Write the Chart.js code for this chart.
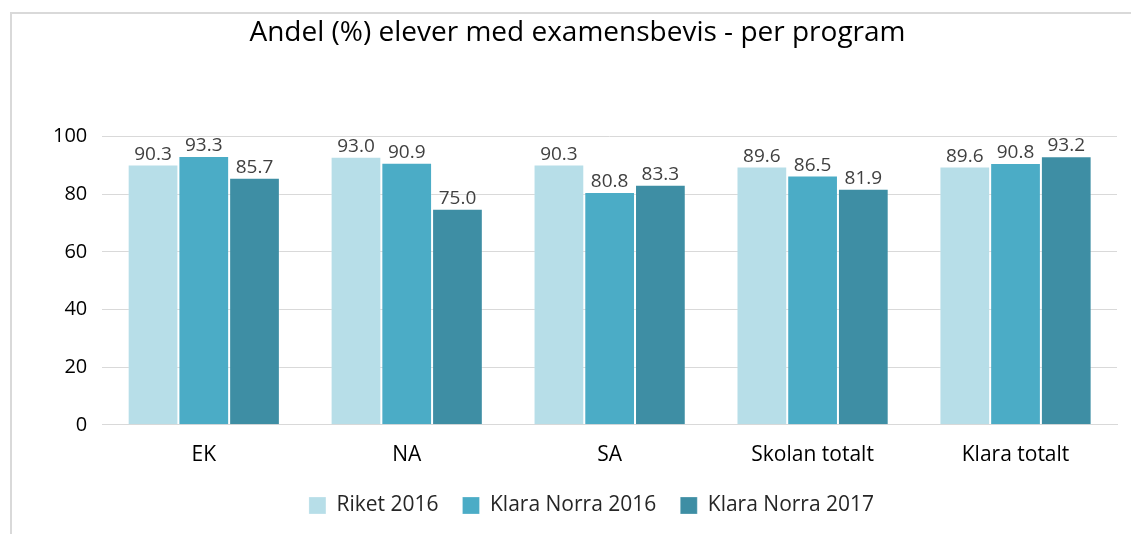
<!DOCTYPE html>
<html>
<head>
<meta charset="utf-8">
<script src="https://cdn.jsdelivr.net/npm/chart.js@4/dist/chart.umd.min.js"></script>
<style>
  html, body { margin: 0; padding: 0; background: #fff; }
  .wrap_chart {
    position: absolute; left: 10px; top: 12px;
    width: 1121px; height: 522px;
    border-top: 2px solid #d9d9d9; border-left: 2px solid #d9d9d9;
    box-sizing: border-box;
  }
</style>
</head>
<body>
<div class="wrap_chart"><canvas id="chart"></canvas></div>
<script>
const categories = ["EK", "NA", "SA", "Skolan totalt", "Klara totalt"]
const riket2016 = [90.3, 93.0, 90.3, 89.6, 89.6]
const klaraNorra2016 = [93.3, 90.9, 80.8, 86.5, 90.8]
const klaraNorra2017 = [85.7, 75.0, 83.3, 81.9, 93.2]
const yTicks = [0, 20, 40, 60, 80, 100]

const FONT = "'Open Sans', sans-serif"

// values above the bars
const valueLabels = {
    id: "valueLabels",
    afterDatasetsDraw(chart) {
        const ctx = chart.ctx
        ctx.save()
        ctx.font = "19px " + FONT
        ctx.fillStyle = "#404040"
        ctx.textAlign = "center"
        ctx.textBaseline = "alphabetic"
        chart.data.datasets.forEach((ds, i) => {
            chart.getDatasetMeta(i).data.forEach((bar, j) => {
                ctx.fillText(ds.data[j].toFixed(1), bar.x, bar.y - 5)
            })
        })
        ctx.restore()
    }
}

// legend sits a bit right of the canvas centre in the original
const legendShift = {
    id: "legendShift",
    afterLayout(chart) {
        chart.legend.left += 14
        chart.legend.right += 14
    }
}

const context = document.getElementById("chart").getContext("2d")

new Chart(context, {
    type: "bar",
    data: {
        labels: categories,
        datasets: [
            { label: "Riket 2016", data: riket2016, backgroundColor: "#b7dee8" },
            { label: "Klara Norra 2016", data: klaraNorra2016, backgroundColor: "#4bacc6" },
            { label: "Klara Norra 2017", data: klaraNorra2017, backgroundColor: "#3e8ea4" },
        ].map(d => Object.assign(d, {
            borderColor: "rgba(255,255,255,0.25)",
            borderWidth: 1,
            categoryPercentage: 0.75,
            barPercentage: 1,
        })),
    },
    options: {
        responsive: true,
        maintainAspectRatio: false,
        animation: false,
        layout: { padding: { left: 26, right: 14, top: 0, bottom: 8 } },
        plugins: {
            title: {
                display: true,
                text: "Andel (%) elever med examensbevis - per program",
                color: "#000",
                font: { family: FONT, size: 28, weight: "normal" },
                padding: { top: 2, bottom: 87 },
            },
            legend: {
                position: "bottom",
                labels: {
                    color: "#262626",
                    font: { family: FONT, size: 21 },
                    boxWidth: 17,
                    boxHeight: 17,
                    padding: 24,
                },
            },
            tooltip: { enabled: false },
        },
        scales: {
            x: {
                afterFit: axis => { axis.height -= 15 },
                grid: { display: false, drawTicks: false },
                border: { display: true, color: "#d9d9d9", width: 1 },
                ticks: { color: "#000", font: { family: FONT, size: 21 }, padding: 18 },
            },
            y: {
                min: 0,
                max: 100,
                afterBuildTicks: axis => { axis.ticks = yTicks.map(v => ({ value: v })) },
                grid: { color: "#d9d9d9", drawTicks: false },
                border: { display: false },
                ticks: { color: "#000", font: { family: FONT, size: 20 }, padding: 15 },
            },
        },
    },
    plugins: [valueLabels, legendShift],
})
</script>
</body>
</html>
